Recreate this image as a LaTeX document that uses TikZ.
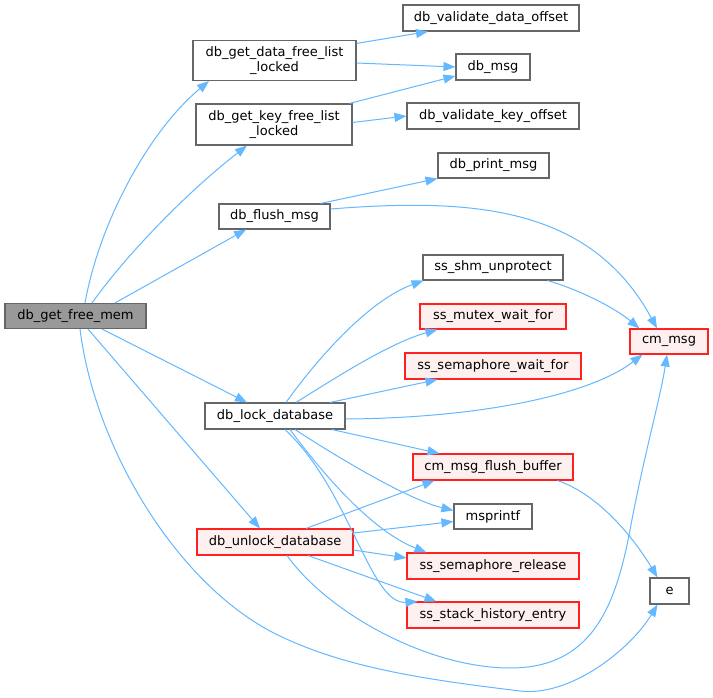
\documentclass[tikz,border=0pt]{standalone}
\usepackage{fontspec}
\setmainfont{DejaVu Sans}
\usetikzlibrary{arrows.meta}
\definecolor{edgeblue}{HTML}{63B8FF}
\definecolor{boxgray}{HTML}{666666}
\definecolor{memfill}{HTML}{999999}
\definecolor{pinkfill}{HTML}{FFF0F0}
\definecolor{redline}{HTML}{FF2020}
\begin{document}
\begin{tikzpicture}[x=1pt,y=-1pt,
  box/.style={draw=boxgray, fill=white, line width=1.1pt, inner sep=0pt,
    font=\fontsize{13}{15}\selectfont, align=center},
  redbox/.style={box, draw=redline, fill=pinkfill},
  graybox/.style={box, fill=memfill},
  edge/.style={draw=edgeblue, line width=1pt, -{Triangle[length=12pt,width=9pt]}}]
\useasboundingbox (0,0) rectangle (713,698);
\fill[white] (0,0) rectangle (713,698);

% left part
\node[graybox, minimum width=141pt, minimum height=25pt] (mem) at (75.5,316) {db\_get\_free\_mem};
\node[box, minimum width=163pt, minimum height=40pt] (dataflk) at (274.5,60.5) {db\_get\_data\_free\_list\\\_locked};
\node[box, minimum width=156pt, minimum height=41pt] (keyflk) at (274,124.5) {db\_get\_key\_free\_list\\\_locked};
\node[box, minimum width=111pt, minimum height=25pt] (flush) at (274.5,216.5) {db\_flush\_msg};
\node[box, minimum width=140pt, minimum height=26pt] (lock) at (275,416) {db\_lock\_database};
\node[redbox, minimum width=156pt, minimum height=26pt] (unlock) at (275,542) {db\_unlock\_database};

% right column
\node[box, minimum width=176pt, minimum height=26pt] (vdata) at (491,18) {db\_validate\_data\_offset};
\node[box, minimum width=74pt, minimum height=26pt] (dbmsg) at (493,67) {db\_msg};
\node[box, minimum width=172pt, minimum height=26pt] (vkey) at (493,116) {db\_validate\_key\_offset};
\node[box, minimum width=111pt, minimum height=25pt] (print) at (493.5,165.5) {db\_print\_msg};
\node[box, minimum width=140pt, minimum height=25pt] (shm) at (493,267.5) {ss\_shm\_unprotect};
\node[redbox, minimum width=146pt, minimum height=25pt] (mutex) at (493,316.5) {ss\_mutex\_wait\_for};
\node[redbox, minimum width=176pt, minimum height=26pt] (semwait) at (493,366) {ss\_semaphore\_wait\_for};
\node[redbox, minimum width=160pt, minimum height=26pt] (cmflush) at (493,467) {cm\_msg\_flush\_buffer};
\node[box, minimum width=78pt, minimum height=25pt] (msprintf) at (493,516.5) {msprintf};
\node[redbox, minimum width=172pt, minimum height=26pt] (semrel) at (493,566) {ss\_semaphore\_release};
\node[redbox, minimum width=172pt, minimum height=26pt] (stack) at (493,615) {ss\_stack\_history\_entry};
\node[redbox, minimum width=78pt, minimum height=25pt] (cmmsg) at (669,341.5) {cm\_msg};
\node[box, minimum width=39pt, minimum height=26pt] (e) at (669.5,591) {e};

% edges from db_get_free_mem
\draw[edge] ([xshift=9.5pt]mem.north) .. controls (100,220) and (150,130) .. ([xshift=-65.5pt]dataflk.south);
\draw[edge] ([xshift=16.5pt]mem.north) .. controls (130,250) and (190,190) .. ([xshift=-27pt]keyflk.south);
\draw[edge] ([xshift=39.5pt]mem.north) -- ([xshift=-28.5pt]flush.south);
\draw[edge] ([xshift=26.5pt]mem.south) -- ([xshift=-28pt]lock.north);
\draw[edge] ([xshift=12.5pt]mem.south) -- ([xshift=-15pt]unlock.north);
\draw[edge] ([xshift=4.5pt]mem.south) .. controls (95,450) and (180,590) .. (282,637)
  .. controls (350,669) and (430,680) .. (520,691)
  .. controls (570,697) and (630,650) .. ([xshift=-12pt]e.south);

% db_get_data_free_list_locked
\draw[edge] ([yshift=-3.5pt]dataflk.north east) -- ([xshift=-63pt]vdata.south);
\draw[edge] ([yshift=-2.5pt]dataflk.east) -- (dbmsg.west);
% db_get_key_free_list_locked
\draw[edge] ([xshift=-3pt]keyflk.north east) -- ([yshift=-9pt]dbmsg.west);
\draw[edge] ([yshift=2pt]keyflk.east) -- (vkey.west);
% db_flush_msg
\draw[edge] ([xshift=-10pt]flush.north east) -- (print.south west);
\draw[edge] ([yshift=7.5pt]flush.east) .. controls (470,198) and (590,205) .. ([xshift=-12pt]cmmsg.north);

% db_lock_database
\draw[edge] ([xshift=11pt]lock.north) .. controls (320,355) and (370,300) .. ([xshift=1pt]shm.south west);
\draw[edge] ([xshift=21pt]lock.north) .. controls (340,375) and (390,343) .. ([xshift=18pt]mutex.south west);
\draw[edge] ([xshift=55pt]lock.north) -- ([xshift=33pt]semwait.south west);
\draw[edge] ([yshift=-3pt]lock.east) .. controls (480,418) and (590,395) .. ([xshift=13pt]cmmsg.south west);
\draw[edge] ([xshift=57pt]lock.south) -- ([xshift=27pt]cmflush.north west);
\draw[edge] ([xshift=20pt]lock.south) .. controls (345,462) and (410,500) .. ([yshift=6pt]msprintf.west);
\draw[edge] ([xshift=15pt]lock.south) .. controls (320,470) and (370,530) .. ([xshift=20pt]semrel.north west);
\draw[edge] ([xshift=10pt]lock.south) .. controls (350,490) and (370,605) .. ([xshift=11pt]stack.north west);

% db_unlock_database
\draw[edge] ([xshift=31pt]unlock.north) -- ([xshift=22pt]cmflush.south west);
\draw[edge] ([yshift=9pt]unlock.east) -- ([yshift=-5pt]msprintf.west);
\draw[edge] ([yshift=-8pt]unlock.east) -- ([yshift=8pt]semrel.west);
\draw[edge] ([xshift=33pt]unlock.south) -- ([xshift=30pt]stack.north west);
\draw[edge] ([xshift=12pt]unlock.south) .. controls (330,615) and (430,668) .. (510,668)
  .. controls (590,668) and (615,610) .. (630,530)
  .. controls (645,450) and (660,400) .. ([xshift=-2pt]cmmsg.south);

% others
\draw[edge] ([xshift=-16pt]shm.south east) .. controls (580,290) and (615,308) .. ([xshift=10pt]cmmsg.north west);
\draw[edge] ([xshift=-16pt]cmflush.south east) .. controls (600,495) and (635,540) .. ([xshift=-12pt]e.north);
\end{tikzpicture}
\end{document}
